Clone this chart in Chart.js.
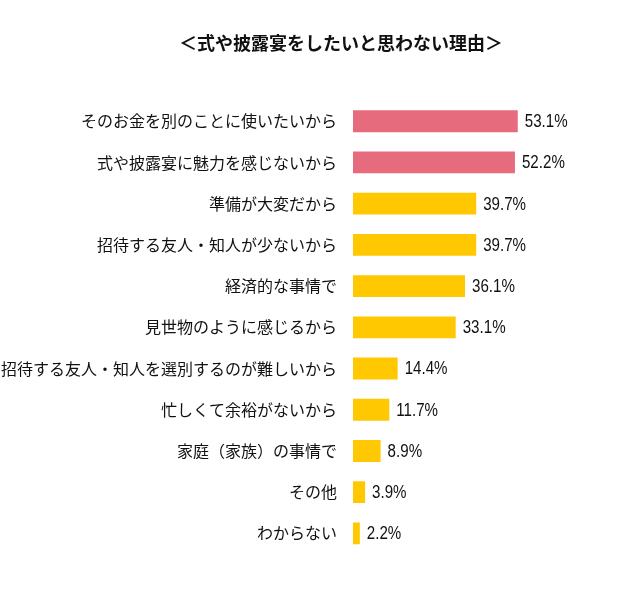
<!DOCTYPE html>
<html>
<head>
<meta charset="utf-8">
<script src="https://cdn.jsdelivr.net/npm/chart.js@4"></script>
<style>
  html, body { margin: 0; padding: 0; background: #fff; }
  #wrap { width: 640px; height: 596px; position: relative; }
</style>
</head>
<body>
<div id="wrap"><canvas id="reasonChart"></canvas></div>
<script>
const titleText = '＜式や披露宴をしたいと思わない理由＞';
const categories = [
    'そのお金を別のことに使いたいから',
    '式や披露宴に魅力を感じないから',
    '準備が大変だから',
    '招待する友人・知人が少ないから',
    '経済的な事情で',
    '見世物のように感じるから',
    '招待する友人・知人を選別するのが難しいから',
    '忙しくて余裕がないから',
    '家庭（家族）の事情で',
    'その他',
    'わからない'
];
const percents = [53.1, 52.2, 39.7, 39.7, 36.1, 33.1, 14.4, 11.7, 8.9, 3.9, 2.2];
const highlightCount = 2;

const pink = '#e66b7d';
const yellow = '#ffc800';
const barColors = percents.map((v, i) => i < highlightCount ? pink : yellow);

const jpFont = '"Noto Sans CJK JP", "Noto Sans", sans-serif';

// draws "53.1%" next to each bar (squeezed a little, the original uses a narrow face)
const valueLabels = {
    id: 'valueLabels',
    afterDatasetsDraw(chart) {
        const { ctx } = chart;
        const meta = chart.getDatasetMeta(0);
        ctx.font = '18px "Liberation Sans", Arial, sans-serif';
        ctx.fillStyle = '#111';
        ctx.textAlign = 'left';
        ctx.textBaseline = 'middle';
        meta.data.forEach((bar, i) => {
            ctx.save();
            ctx.translate(bar.x + 7, bar.y + 1);
            ctx.scale(0.84, 1);
            ctx.fillText(percents[i].toFixed(1) + '%', 0, 0);
            ctx.restore();
        });
    }
};

const ctx = document.getElementById('reasonChart').getContext('2d');
new Chart(ctx, {
    type: 'bar',
    data: {
        labels: categories,
        datasets: [{
            data: percents,
            backgroundColor: barColors,
            borderWidth: 0,
            barPercentage: 0.53,
            categoryPercentage: 1
        }]
    },
    options: {
        indexAxis: 'y',
        responsive: true,
        maintainAspectRatio: false,
        animation: false,
        // negative right padding pushes the title centre right, as in the original
        layout: { padding: { top: 0, bottom: 42, left: 0, right: -42 } },
        plugins: {
            legend: { display: false },
            tooltip: { enabled: false },
            title: {
                display: true,
                text: titleText,
                color: '#111',
                font: { family: jpFont, size: 18, weight: 'bold', lineHeight: 1.2 },
                padding: { top: 32, bottom: 47 }
            }
        },
        scales: {
            x: {
                display: false,
                min: 0,
                max: 92.5
            },
            y: {
                grid: { display: false, drawTicks: false },
                border: { display: false },
                ticks: {
                    color: '#111',
                    padding: 16,
                    font: { family: jpFont, size: 16 }
                },
                afterFit(scale) { scale.width = 353; }
            }
        }
    },
    plugins: [valueLabels]
});
</script>
</body>
</html>
